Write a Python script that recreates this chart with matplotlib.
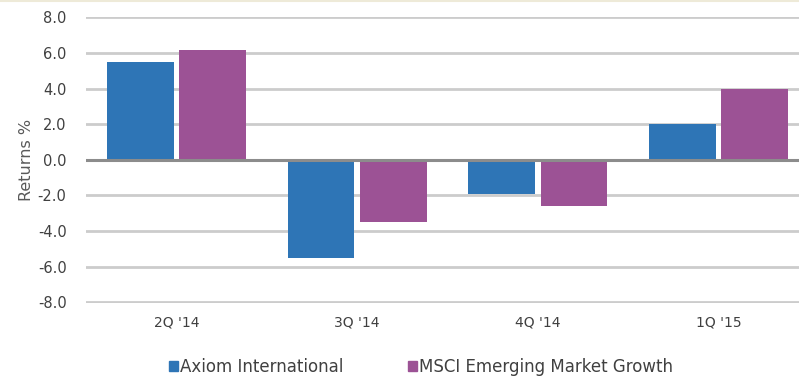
import matplotlib
matplotlib.use("Agg")
import matplotlib.pyplot as plt
from matplotlib.patches import Patch
from matplotlib.lines import Line2D
import numpy as np

quarters = ["2Q '14", "3Q '14", "4Q '14", "1Q '15"]
axiom = [5.5, -5.5, -1.9, 2.0]
msci = [6.2, -3.5, -2.6, 4.0]
series_names = ["Axiom International", "MSCI Emerging Market Growth"]
yticks = [-8.0, -6.0, -4.0, -2.0, 0.0, 2.0, 4.0, 6.0, 8.0]

blue = "#2E75B6"
purple = "#9C5295"
text_col = "#404040"

plt.rcParams["font.family"] = ["DejaVu Sans"]

fig = plt.figure(figsize=(7.99, 3.77), dpi=100)
# the plot runs a little past the right edge of the canvas
ax = fig.add_axes([86 / 799, 0.196, 723 / 799, 0.760])

x = np.arange(len(quarters))
w = 0.37
ax.bar(x - 0.2, axiom, width=w, color=blue, zorder=3)
ax.bar(x + 0.2, msci, width=w, color=purple, zorder=3)

ax.set_xlim(-0.5, len(quarters) - 0.5)
ax.set_ylim(-8.05, 8.05)
ax.set_yticks(yticks)
ax.set_yticklabels([f"{v:.1f}" for v in yticks])
ax.set_xticks(x)
ax.set_xticklabels(quarters)

for v in yticks:
    if v == 0:
        ax.axhline(v, color="#8C8C8C", lw=2.2, zorder=4)
    else:
        ax.axhline(v, color="#CCCCCC", lw=2.0, zorder=1)

for s in ax.spines.values():
    s.set_visible(False)
ax.tick_params(axis="both", length=0, colors=text_col)
ax.tick_params(axis="y", labelsize=10.5, pad=14)
ax.tick_params(axis="x", labelsize=10, pad=9)
ax.set_ylabel("Returns %", color="#595959", fontsize=11.5, labelpad=3)

handles = [Patch(color=blue), Patch(color=purple)]
fig.legend(handles, series_names, loc="center", bbox_to_anchor=(421 / 799, 1 - 367 / 377),
           ncol=2, frameon=False, fontsize=12, handlelength=0.55, handleheight=0.55,
           handletextpad=0.1, columnspacing=3.9, labelcolor=text_col)

# faint border along the top edge
fig.add_artist(Line2D([0, 1], [0.998, 0.998], color="#EEEAD8", lw=1.5))

fig.savefig("out.png", dpi=100)
